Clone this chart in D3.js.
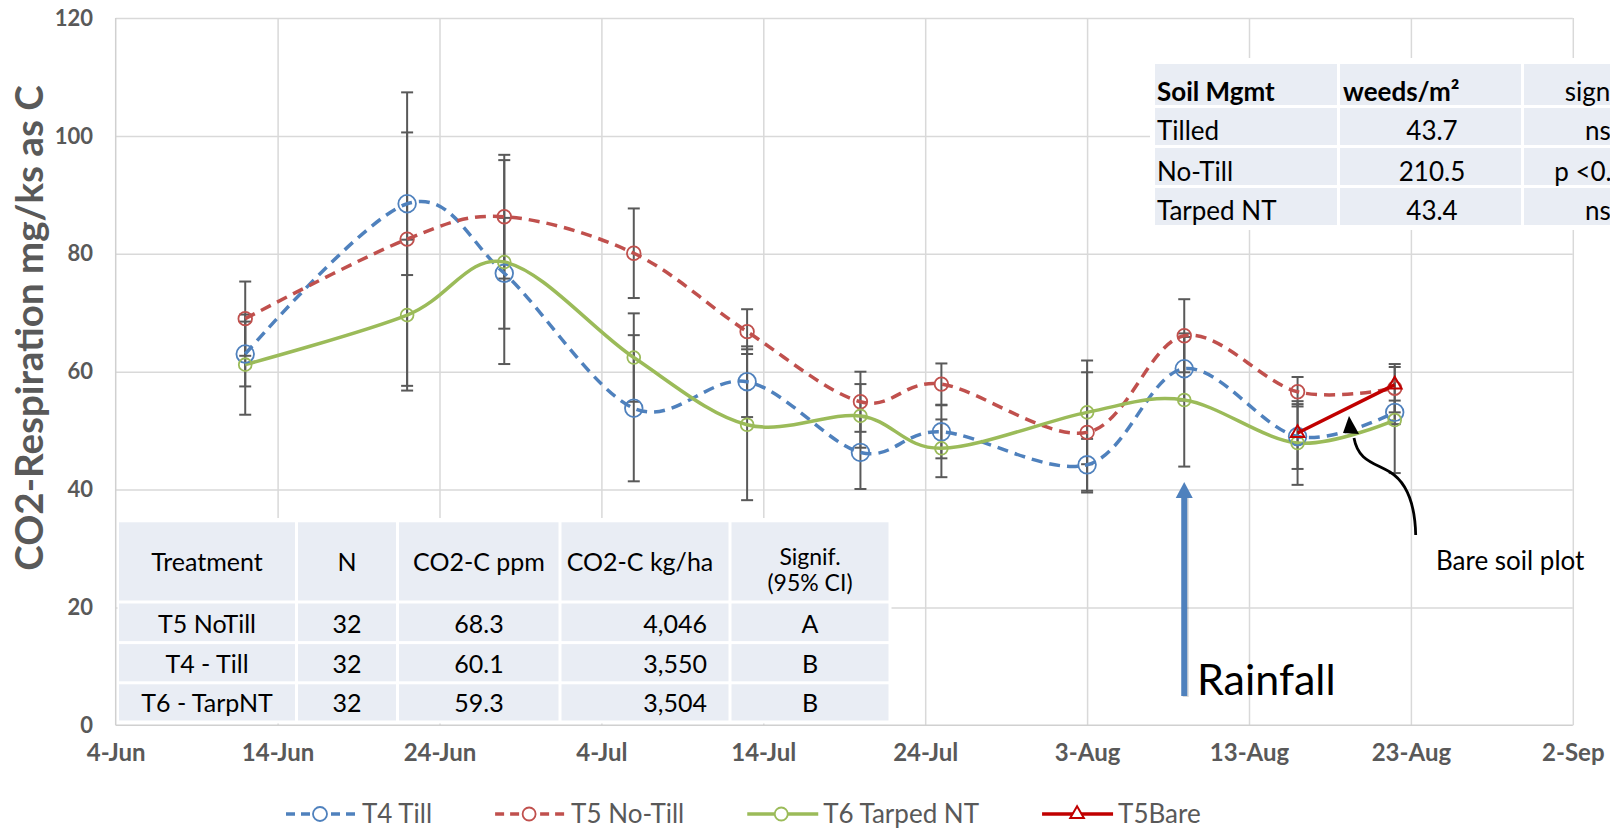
<!DOCTYPE html>
<html><head><meta charset="utf-8">
<script src="https://cdn.jsdelivr.net/npm/d3@7/dist/d3.min.js"></script>
<style>
html,body{margin:0;padding:0;background:#fff;}
svg{display:block;font-family:Lato, "Open Sans", sans-serif;}
</style></head>
<body>
<svg id="chart" width="1610" height="828"></svg>
<script>
// ---------------- DATA ----------------
const xTickLabels = ["4-Jun","14-Jun","24-Jun","4-Jul","14-Jul","24-Jul","3-Aug","13-Aug","23-Aug","2-Sep"];
const yTicks = [0,20,40,60,80,100,120];
const dateLabels = ["12-Jun","22-Jun","28-Jun","6-Jul","13-Jul","20-Jul","25-Jul","3-Aug","9-Aug","16-Aug","22-Aug"];
const t4Till   = [63.0, 88.5, 76.7, 53.8, 58.3, 46.3, 49.8, 44.2, 60.5, 49.0, 53.1];
const t4Err    = [5.5, 12.1, 9.4, 12.4, 6.0, 6.2, 4.5, 4.4, 5.4, 5.5, 2.0];
const t5NoTill = [69.0, 82.5, 86.3, 80.1, 66.8, 54.9, 57.9, 49.7, 66.1, 56.6, 57.2];
const t5Err    = [6.3, 24.9, 10.5, 7.6, 3.8, 5.1, 3.5, 10.2, 6.2, 2.5, 4.1];
const t6Tarped = [61.2, 69.6, 78.6, 62.4, 51.0, 52.5, 47.0, 53.1, 55.2, 47.9, 51.8];
const t6Err    = [8.5, 12.8, 17.3, 7.5, 12.8, 5.4, 4.9, 8.8, 11.3, 7.1, 9.0];
const t5BareDates = ["16-Aug","22-Aug"];
const t5Bare   = [49.6, 57.8];
const seriesNames = ["T4 Till","T5 No-Till","T6 Tarped NT","T5Bare"];

const weedHeader = ["Soil Mgmt","weeds/m²","signif."];
const weedMgmt   = ["Tilled","No-Till","Tarped NT"];
const weedValues = ["43.7","210.5","43.4"];
const weedSignif = ["ns","p <0.05","ns"];

const co2Header    = ["Treatment","N","CO2-C ppm","CO2-C kg/ha",["Signif.","(95% CI)"]];
const co2Treatment = ["T5 NoTill","T4 - Till","T6 - TarpNT"];
const co2N         = ["32","32","32"];
const co2Ppm       = ["68.3","60.1","59.3"];
const co2KgHa      = ["4,046","3,550","3,504"];
const co2Signif    = ["A","B","B"];

// ---------------- SETUP ----------------
const parse = s => d3.timeParse("%d-%b-%Y")(s + "-2019");
const svg = d3.select("#chart");
const x = d3.scaleTime().domain([parse(xTickLabels[0]), parse(xTickLabels[xTickLabels.length-1])]).range([115.7, 1572.8]);
const y = d3.scaleLinear().domain([0,120]).range([725.3, 18.1]);
const gridCol = "#D9D9D9", textGray = "#595959";

// gridlines
const gGrid = svg.append("g");
gGrid.append("g").call(d3.axisLeft(y).tickValues(yTicks.filter(v=>v>0)).tickSize(-(1572.8-115.7)).tickFormat(""))
  .attr("transform","translate(115.7,0)")
  .call(g=>{g.select(".domain").remove(); g.selectAll("line").attr("stroke",gridCol).attr("stroke-width",1.5);});
gGrid.append("g").call(d3.axisBottom(x).tickValues(xTickLabels.map(parse).slice(1)).tickSize(-(725.3-18.1)).tickFormat(""))
  .attr("transform","translate(0,725.3)")
  .call(g=>{g.select(".domain").remove(); g.selectAll("line").attr("stroke",gridCol).attr("stroke-width",1.5);});

// axes lines
svg.append("line").attr("x1",115.7).attr("x2",115.7).attr("y1",18.1).attr("y2",725.3).attr("stroke","#D0D0D0").attr("stroke-width",1.5);
svg.append("line").attr("x1",115.7).attr("x2",1572.8).attr("y1",725.3).attr("y2",725.3).attr("stroke","#D0D0D0").attr("stroke-width",1.5);

// axis labels
const yAx = svg.append("g").attr("transform","translate(93,0)")
  .call(d3.axisLeft(y).tickValues(yTicks).tickSize(0).tickPadding(0));
yAx.select(".domain").remove();
yAx.selectAll("text").attr("font-family","Lato").attr("font-weight","bold").attr("font-size",22).attr("fill",textGray);
const xAx = svg.append("g").attr("transform","translate(0,744)")
  .call(d3.axisBottom(x).tickValues(xTickLabels.map(parse)).tickFormat((d,i)=>xTickLabels[i]).tickSize(0).tickPadding(0));
xAx.select(".domain").remove();
xAx.selectAll("text").attr("font-family","Lato").attr("font-weight","bold").attr("font-size",24).attr("fill",textGray);

// y title
svg.append("text").attr("transform","translate(43,328) rotate(-90)").attr("text-anchor","middle")
  .attr("font-family","Lato").attr("font-weight","bold").attr("font-size",38.5).attr("fill",textGray)
  .text("CO2-Respiration mg/ks as C");

// ---------------- TABLES ----------------
function cellRect(g,x0,x1,y0,y1){
  g.append("rect").attr("x",x0+1.5).attr("y",y0+1.5).attr("width",x1-x0-3).attr("height",y1-y0-3).attr("fill","#E9EDF4");
}
// weed table
const t1 = svg.append("g");
const t1Cols = [1153.5,1338.5,1522.5,1700], t1Rows = [62.5,106.5,146.5,186.5,226.5];
t1.append("rect").attr("x",1150).attr("y",58).attr("width",470).attr("height",172).attr("fill","#fff");
for(let r=0;r<4;r++) for(let c=0;c<3;c++) cellRect(t1,t1Cols[c],t1Cols[c+1],t1Rows[r],t1Rows[r+1]);
const t1Base = [100.7,140,180.7,220];
const t1font = g=>g.attr("font-family","Lato").attr("font-size",26).attr("fill","#000");
t1.append("text").attr("x",1157).attr("y",t1Base[0]).attr("font-weight","bold").call(t1font).text(weedHeader[0]);
t1.append("text").attr("x",1343).attr("y",t1Base[0]).attr("font-weight","bold").call(t1font).text(weedHeader[1]);
t1.append("text").attr("x",1598).attr("y",t1Base[0]).attr("text-anchor","middle").call(t1font).text(weedHeader[2]);
weedMgmt.forEach((s,i)=>{
  t1.append("text").attr("x",1157).attr("y",t1Base[i+1]).call(t1font).text(s);
  t1.append("text").attr("x",1432).attr("y",t1Base[i+1]).attr("text-anchor","middle").call(t1font).text(weedValues[i]);
  t1.append("text").attr("x",1598).attr("y",t1Base[i+1]).attr("text-anchor","middle").call(t1font).text(weedSignif[i]);
});

// CO2 table
const t2 = svg.append("g");
const t2Cols = [117.5,296.5,397.5,560,730,890], t2Rows = [520.8,602,642.6,682.8,722];
t2.append("rect").attr("x",117.5).attr("y",518).attr("width",774).attr("height",205.5).attr("fill","#fff");
for(let r=0;r<4;r++) for(let c=0;c<5;c++) cellRect(t2,t2Cols[c],t2Cols[c+1],t2Rows[r],t2Rows[r+1]);
const t2font = g=>g.attr("font-family","Lato").attr("font-size",25).attr("fill","#000");
const cx = [207,347,479,640,810];
co2Header.forEach((h,c)=>{
  if(Array.isArray(h)){
    t2.append("text").attr("x",cx[c]).attr("y",565).attr("text-anchor","middle").call(t2font).attr("font-size",23).text(h[0]);
    t2.append("text").attr("x",cx[c]).attr("y",591).attr("text-anchor","middle").call(t2font).attr("font-size",23).text(h[1]);
  } else {
    t2.append("text").attr("x",cx[c]).attr("y",571).attr("text-anchor","middle").call(t2font).text(h);
  }
});
const t2Base = [633,673,712];
co2Treatment.forEach((s,i)=>{
  t2.append("text").attr("x",cx[0]).attr("y",t2Base[i]).attr("text-anchor","middle").call(t2font).text(s);
  t2.append("text").attr("x",cx[1]).attr("y",t2Base[i]).attr("text-anchor","middle").call(t2font).text(co2N[i]);
  t2.append("text").attr("x",cx[2]).attr("y",t2Base[i]).attr("text-anchor","middle").call(t2font).text(co2Ppm[i]);
  t2.append("text").attr("x",707).attr("y",t2Base[i]).attr("text-anchor","end").call(t2font).text(co2KgHa[i]);
  t2.append("text").attr("x",cx[4]).attr("y",t2Base[i]).attr("text-anchor","middle").call(t2font).text(co2Signif[i]);
});

// ---------------- SERIES ----------------
const dates = dateLabels.map(parse);
const series = [
  {name:seriesNames[0], vals:t4Till, err:t4Err, color:"#4F81BD", dash:"11,7", r:8.8},
  {name:seriesNames[1], vals:t5NoTill, err:t5Err, color:"#C0504D", dash:"11,7", r:6.8},
  {name:seriesNames[2], vals:t6Tarped, err:t6Err, color:"#9BBB59", dash:null, r:6.4}
];
const gErr = svg.append("g").attr("stroke","#595959").attr("stroke-width",2);
series.forEach(s=>{
  s.vals.forEach((v,i)=>{
    const xx = x(dates[i]), y0 = y(v - s.err[i]), y1 = y(v + s.err[i]);
    gErr.append("line").attr("x1",xx).attr("x2",xx).attr("y1",y0).attr("y2",y1);
    gErr.append("line").attr("x1",xx-6).attr("x2",xx+6).attr("y1",y0).attr("y2",y0);
    gErr.append("line").attr("x1",xx-6).attr("x2",xx+6).attr("y1",y1).attr("y2",y1);
  });
});
const line = d3.line().x(d=>x(d[0])).y(d=>y(d[1])).curve(d3.curveCardinal.tension(0));
series.forEach(s=>{
  svg.append("path").attr("d",line(dates.map((d,i)=>[d,s.vals[i]])))
    .attr("fill","none").attr("stroke",s.color).attr("stroke-width",3.5)
    .attr("stroke-dasharray",s.dash).attr("stroke-linecap","butt");
});
series.forEach(s=>{
  svg.append("g").selectAll("circle").data(s.vals).join("circle")
    .attr("cx",(d,i)=>x(dates[i])).attr("cy",d=>y(d)).attr("r",s.r)
    .attr("fill","none").attr("stroke",s.color).attr("stroke-width",1.8);
});
// T5 Bare
const bareDates = t5BareDates.map(parse);
svg.append("path").attr("d",d3.line().x((d,i)=>x(bareDates[i])).y(d=>y(d))(t5Bare))
  .attr("fill","none").attr("stroke","#C00000").attr("stroke-width",3.5);
const tri = d3.symbol().type(d3.symbolTriangle).size(80);
svg.append("g").selectAll("path").data(t5Bare).join("path")
  .attr("d",tri).attr("transform",(d,i)=>`translate(${x(bareDates[i])},${y(d)})`)
  .attr("fill","none").attr("stroke","#C00000").attr("stroke-width",2);

// ---------------- ANNOTATIONS ----------------
const rainX = x(parse("9-Aug"));
svg.append("rect").attr("x",rainX-3+1.5).attr("y",497).attr("width",6).attr("height",200).attr("fill","#000").attr("opacity",0.15);
svg.append("rect").attr("x",rainX-3).attr("y",495).attr("width",6).attr("height",201).attr("fill","#4F81BD");
svg.append("path").attr("d",`M${rainX},${482} L${rainX+8.5},${498} L${rainX-8.5},${498} Z`).attr("fill","#4F81BD");
svg.append("text").attr("x",1197).attr("y",695).attr("font-family","Lato").attr("font-size",43).attr("fill","#000").text("Rainfall");

svg.append("path").attr("d","M1415.7,535 C1415,503 1406,482 1390,472 C1372,462 1358,460 1354,438")
  .attr("fill","none").attr("stroke","#000").attr("stroke-width",2.8);
svg.append("path").attr("d","M1349,416 L1359,434 L1343,433 Z").attr("fill","#000");
svg.append("text").attr("x",1436).attr("y",570).attr("font-family","Lato").attr("font-size",26).attr("fill","#000").text("Bare soil plot");

// ---------------- LEGEND ----------------
const leg = svg.append("g").attr("transform","translate(0,814)");
let lx = 286;
const legItems = [
  {name:seriesNames[0], color:"#4F81BD", dash:"9,6", mark:"circle", r:7},
  {name:seriesNames[1], color:"#C0504D", dash:"9,6", mark:"circle", r:6.5},
  {name:seriesNames[2], color:"#9BBB59", dash:null, mark:"circle", r:6.5},
  {name:seriesNames[3], color:"#C00000", dash:null, mark:"tri"}
];
legItems.forEach(it=>{
  leg.append("line").attr("x1",lx).attr("x2",lx+71).attr("y1",0).attr("y2",0)
    .attr("stroke",it.color).attr("stroke-width",3.5).attr("stroke-dasharray",it.dash);
  if(it.mark==="circle"){
    leg.append("circle").attr("cx",lx+34).attr("cy",0).attr("r",it.r).attr("fill","#fff").attr("stroke",it.color).attr("stroke-width",1.8);
  } else {
    leg.append("path").attr("d",tri).attr("transform",`translate(${lx+35},0)`).attr("fill","#fff").attr("stroke",it.color).attr("stroke-width",2);
  }
  const t = leg.append("text").attr("x",lx+76).attr("y",9).attr("font-family","Lato").attr("font-size",26).attr("fill",textGray).text(it.name);
  lx += 76 + t.node().getComputedTextLength() + 63;
});
</script>
</body></html>
